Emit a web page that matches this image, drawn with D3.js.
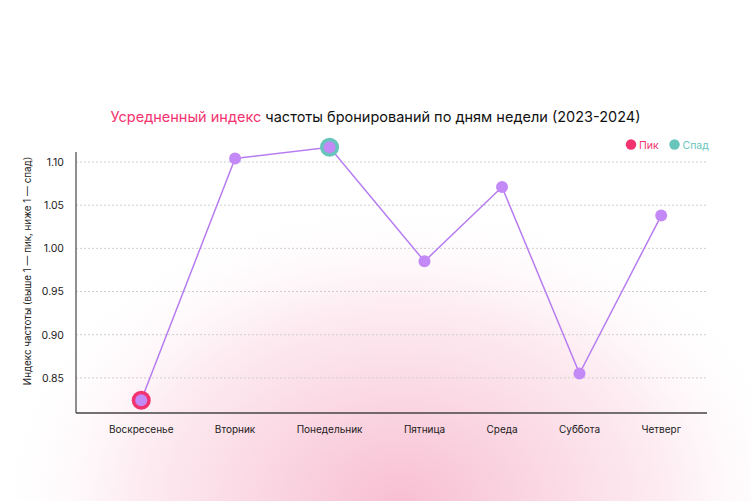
<!DOCTYPE html>
<html>
<head>
<meta charset="utf-8">
<script src="https://cdn.jsdelivr.net/npm/d3@7"></script>
<style>
  body { margin: 0; background: #fff; }
  svg { display: block; font-family: Inter, 'Noto Sans', sans-serif; }
</style>
</head>
<body>
<svg id="svg" width="751" height="501"></svg>
<script>
const days = ['Воскресенье', 'Вторник', 'Понедельник', 'Пятница', 'Среда', 'Суббота', 'Четверг']
const index = [0.824, 1.104, 1.117, 0.985, 1.071, 0.855, 1.038]
const yTicks = [0.85, 0.90, 0.95, 1.00, 1.05, 1.10]
const peakDay = 'Воскресенье'
const dipDay = 'Понедельник'
const legendItems = ['Пик', 'Спад']

const pink = '#f2336f'
const teal = '#67c5bb'
const purple = '#c389f7'

const plotLeft = 76, plotRight = 707, plotTop = 152, plotBottom = 413

const svg = d3.select('#svg')

// soft pink glow at the bottom
const defs = svg.append('defs')
const grad = defs.append('radialGradient')
  .attr('id', 'glow')
  .attr('gradientUnits', 'userSpaceOnUse')
  .attr('cx', 400).attr('cy', 505).attr('r', 410)
  .attr('gradientTransform', 'translate(400 505) scale(1 0.75) translate(-400 -505)')
grad.append('stop').attr('offset', 0).attr('stop-color', '#f8bfd2')
grad.append('stop').attr('offset', 0.3).attr('stop-color', '#fad4e1')
grad.append('stop').attr('offset', 0.65).attr('stop-color', '#fdecf2')
grad.append('stop').attr('offset', 1).attr('stop-color', '#ffffff').attr('stop-opacity', 0)
svg.append('rect').attr('width', 751).attr('height', 501).attr('fill', 'url(#glow)')

const yScale = d3.scaleLinear()
  .domain([0.8093, 1.1116])
  .range([plotBottom, plotTop])

// gridlines
svg.append('g')
  .selectAll('line')
  .data(yTicks)
  .enter()
  .append('line')
  .attr('x1', plotLeft)
  .attr('x2', plotRight)
  .attr('y1', d => yScale(d))
  .attr('y2', d => yScale(d))
  .attr('stroke', '#cfcfcf')
  .attr('stroke-dasharray', '2,2')

// y axis
const yAxis = svg.append('g')
  .attr('transform', `translate(${plotLeft},0)`)
  .call(d3.axisLeft(yScale).tickValues(yTicks).tickSize(0).tickPadding(12).tickFormat(d3.format('.2f')))
yAxis.select('.domain').remove()
yAxis.selectAll('text')
  .attr('font-family', 'Inter, sans-serif')
  .attr('font-size', 10.5)
  .attr('fill', '#222')

svg.append('line')
  .attr('x1', plotLeft).attr('x2', plotLeft)
  .attr('y1', plotTop).attr('y2', plotBottom)
  .attr('stroke', '#6a6a6a')
  .attr('stroke-width', 1.5)

svg.append('line')
  .attr('x1', plotLeft).attr('x2', plotRight)
  .attr('y1', plotBottom).attr('y2', plotBottom)
  .attr('stroke', '#444')
  .attr('stroke-width', 1.5)

// x labels sit in a row with equal gaps between them, points sit on label centres
const labels = svg.append('g')
  .selectAll('text')
  .data(days)
  .enter()
  .append('text')
  .text(d => d)
  .attr('font-size', 10)
  .attr('fill', '#1a1a1a')
  .attr('text-anchor', 'middle')
  .attr('y', 433)

const rowLeft = plotLeft + 33, rowRight = plotRight - 26
const widths = []
labels.each(function () { widths.push(this.getComputedTextLength()) })
const gap = (rowRight - rowLeft - d3.sum(widths)) / (days.length - 1)
let cursor = rowLeft
const centres = widths.map(w => {
  const c = cursor + w / 2
  cursor += w + gap
  return c
})
const xScale = d3.scaleOrdinal().domain(days).range(centres)
labels.attr('x', d => xScale(d))

const data = days.map((d, i) => ({ day: d, value: index[i] }))

svg.append('path')
  .datum(data)
  .attr('d', d3.line().x(d => xScale(d.day)).y(d => yScale(d.value)))
  .attr('fill', 'none')
  .attr('stroke', '#b77cf0')
  .attr('stroke-width', 1.5)

// highlight rings
svg.append('g')
  .selectAll('circle')
  .data(data.filter(d => d.day === peakDay || d.day === dipDay))
  .enter()
  .append('circle')
  .attr('cx', d => xScale(d.day))
  .attr('cy', d => yScale(d.value))
  .attr('r', 9.5)
  .attr('fill', d => d.day === peakDay ? pink : teal)

svg.append('g')
  .selectAll('circle')
  .data(data)
  .enter()
  .append('circle')
  .attr('cx', d => xScale(d.day))
  .attr('cy', d => yScale(d.value))
  .attr('r', 6)
  .attr('fill', purple)

// title
const title = svg.append('text')
  .attr('x', 375.5)
  .attr('y', 122)
  .attr('text-anchor', 'middle')
  .attr('font-size', 14.5)
title.append('tspan').text('Усредненный индекс').attr('fill', pink)
title.append('tspan').text(' частоты бронирований по дням недели (2023-2024)').attr('fill', '#111')

// y axis title
svg.append('text')
  .attr('transform', 'translate(31,271) rotate(-90)')
  .attr('text-anchor', 'middle')
  .attr('font-size', 9.8)
  .attr('fill', '#222')
  .text('Индекс частоты (выше 1 — пик, ниже 1 — спад)')

// legend
const legendColours = [pink, teal]
const legend = svg.append('g')
  .selectAll('g')
  .data(legendItems)
  .enter()
  .append('g')
  .attr('transform', (d, i) => `translate(${631 + i * 43.5},144.5)`)
legend.append('circle').attr('r', 5.2).attr('fill', (d, i) => legendColours[i])
legend.append('text')
  .text(d => d)
  .attr('x', 8)
  .attr('y', 4)
  .attr('font-size', 10.5)
  .attr('fill', (d, i) => legendColours[i])
</script>
</body>
</html>
